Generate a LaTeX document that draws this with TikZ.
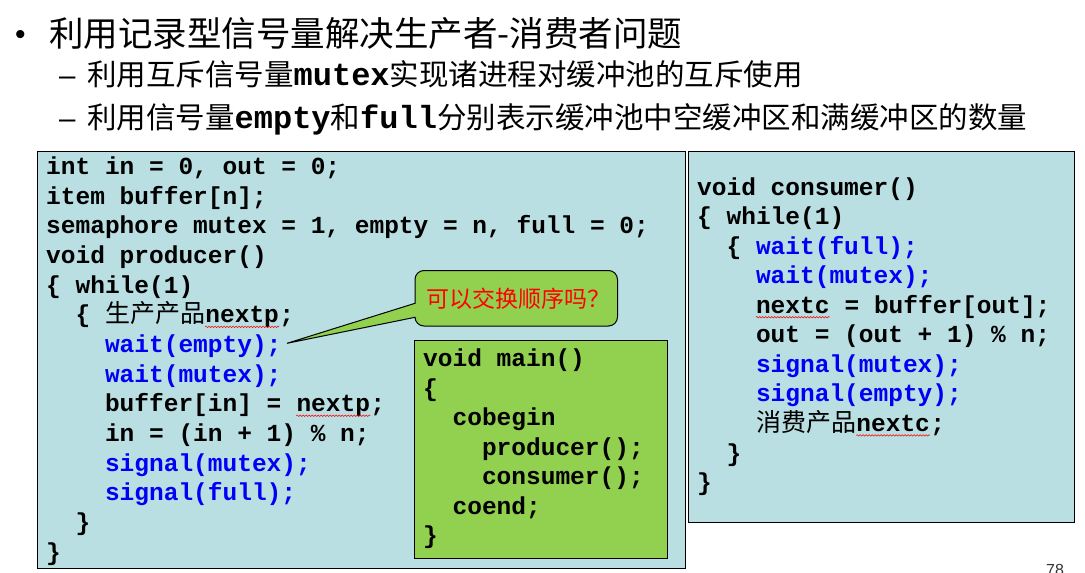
\documentclass[tikz,border=0pt]{standalone}
\usepackage{fontspec}
\usetikzlibrary{decorations.pathmorphing}
\newfontfamily\cjk{Noto Sans CJK SC}
\newfontfamily\mono{Liberation Mono}
\newfontfamily\arial{Liberation Sans}
\definecolor{boxblue}{RGB}{185,223,227}
\definecolor{boxgreen}{RGB}{146,208,80}
\definecolor{codeblue}{RGB}{0,0,245}
\newcommand\cn[1]{{\cjk\mdseries\fontsize{25}{30}\selectfont #1}}
\newcommand\bl[1]{\textcolor{codeblue}{#1}}
\newcommand\mb[1]{{\mono\bfseries\fontsize{32}{38}\selectfont #1}}
\frenchspacing
\tikzset{
  codeline/.style={anchor=base west, inner sep=0pt, font=\mono\bfseries\fontsize{24.5}{29.6}\selectfont},
  headline/.style={anchor=base west, inner sep=0pt, font=\cjk\fontsize{34.5}{40}\selectfont},
  subline/.style={anchor=base west, inner sep=0pt, font=\cjk\fontsize{29.5}{36}\selectfont},
  codebox/.style={draw=black, line width=1pt},
  squiggle/.style={red, line width=0.5pt, decorate, decoration={snake, amplitude=0.8pt, segment length=3pt}},
}
\begin{document}
\begin{tikzpicture}[x=1pt,y=-1pt]
    \useasboundingbox (0,0) rectangle (1085,573);
    \fill[white] (0,0) rectangle (1085,573);

    % heading
    \node[headline,font=\arial\fontsize{30}{36}\selectfont] (dot) at (15,44) {•};
    \node[headline] (title) at (49,46) {利用记录型信号量解决生产者-消费者问题};
    \node[subline,font=\arial\fontsize{29.5}{36}\selectfont] (dash1) at (59,85) {–};
    \node[subline] (sub1) at (87,85) {利用互斥信号量\mb{mutex}实现诸进程对缓冲池的互斥使用};
    \node[subline,font=\arial\fontsize{29.5}{36}\selectfont] (dash2) at (59,128) {–};
    \node[subline] (sub2) at (87,128) {利用信号量\mb{empty}和\mb{full}分别表示缓冲池中空缓冲区和满缓冲区的数量};

    % boxes
    \draw[codebox,fill=boxblue](37,151.7)rectangle(685.7,568.7);
    \draw[codebox,fill=boxblue](688.7,151.7)rectangle(1074,522);

    % producer
    \node[codeline] (p1) at (46,174.5) {int in = 0, out = 0;};
    \node[codeline] (p2) at (46,204.2) {item buffer[n];};
    \node[codeline] (p3) at (46,233.8) {semaphore mutex = 1, empty = n, full = 0;};
    \node[codeline] (p4) at (46,263.5) {void producer()};
    \node[codeline] (p5) at (46,293.1) {\{ while(1)};
    \node[codeline] (p6) at (75.4,322.8) {\{ \cn{生产产品}};
    \node[codeline] (np1) at (p6.base east) {nextp};
    \node[codeline] (p6x) at (np1.base east) {;};
    \node[codeline] (p7) at (104.8,352.4) {\bl{wait(empty);}};
    \node[codeline] (p8) at (104.8,382.1) {\bl{wait(mutex);}};
    \node[codeline] (p9) at (104.8,411.7) {buffer[in] = \mbox{}};
    \node[codeline] (np2) at (p9.base east) {nextp};
    \node[codeline] (p9x) at (np2.base east) {;};
    \node[codeline] (p10) at (104.8,441.4) {in = (in + 1) \% n;};
    \node[codeline] (p11) at (104.8,471) {\bl{signal(mutex);}};
    \node[codeline] (p12) at (104.8,500.7) {\bl{signal(full);}};
    \node[codeline] (p13) at (75.4,530.3) {\}};
    \node[codeline] (p14) at (46,560) {\}};

    % consumer
    \node[codeline] (c1) at (697,195) {void consumer()};
    \node[codeline] (c2) at (697,224.6) {\{ while(1)};
    \node[codeline] (c3) at (726.4,254.1) {\{ \bl{wait(full);}};
    \node[codeline] (c4) at (755.8,283.7) {\bl{wait(mutex);}};
    \node[codeline] (nc1) at (755.8,313.2) {nextc};
    \node[codeline] (c5) at (nc1.base east) {\ = buffer[out];};
    \node[codeline] (c6) at (755.8,342.8) {out = (out + 1) \% n;};
    \node[codeline] (c7) at (755.8,372.3) {\bl{signal(mutex);}};
    \node[codeline] (c8) at (755.8,401.9) {\bl{signal(empty);}};
    \node[codeline] (c9) at (755.8,431.4) {\cn{消费产品}};
    \node[codeline] (nc2) at (c9.base east) {nextc};
    \node[codeline] (c9x) at (nc2.base east) {;};
    \node[codeline] (c10) at (726.4,461) {\}};
    \node[codeline] (c11) at (697,490.5) {\}};

    % spell-check marks
    \foreach \w in {np1,np2,nc1,nc2}
        \draw[squiggle]([yshift=-4pt]\w.base west)--([yshift=-4pt]\w.base east);

    % main
    \draw[codebox,fill=boxgreen](414,340.7)rectangle(667.7,558.3);
    \node[codeline] (m1) at (423,366.5) {void main()};
    \node[codeline] (m2) at (423,396) {\{};
    \node[codeline] (m3) at (452.4,425.5) {cobegin};
    \node[codeline] (m4) at (481.8,455) {producer();};
    \node[codeline] (m5) at (481.8,484.5) {consumer();};
    \node[codeline] (m6) at (452.4,514) {coend;};
    \node[codeline] (m7) at (423,543.5) {\}};

    % callout
    \coordinate (tip) at (287,343.3);
    \draw[codebox,fill=boxgreen](415,303.3)[rounded corners=9]--(415,270.5)--(617.5,270.5)--(617.5,326)--(415,326)[sharp corners]--(415,317.3)--(tip)--cycle;
    \node[inner sep=0pt,text=red,font=\cjk\fontsize{23}{28}\selectfont] (ask) at (518.5,298.5) {可以交换顺序吗？};

    \node[anchor=north west,inner sep=0pt,text=black!80,font=\arial\fontsize{16}{18}\selectfont] (page) at (1046,564) {78};
\end{tikzpicture}
\end{document}
